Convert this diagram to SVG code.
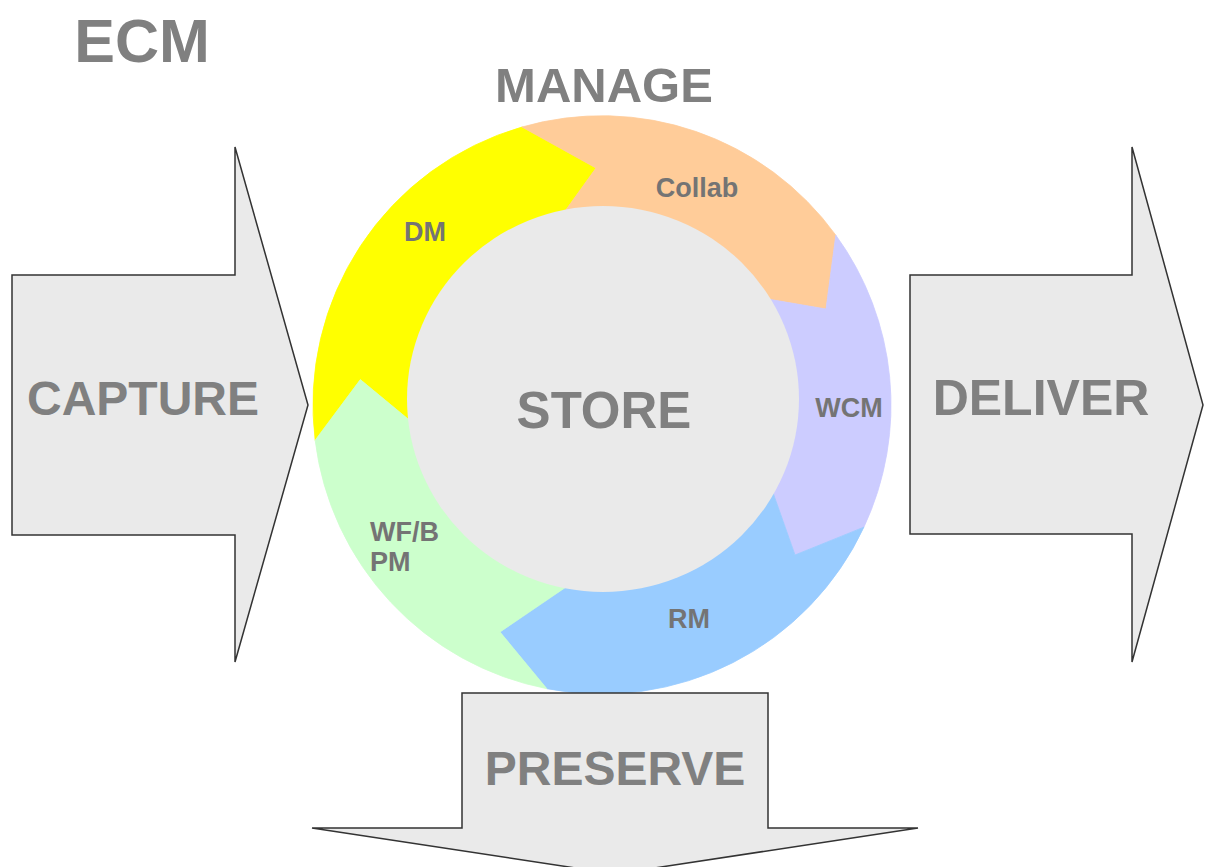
<svg xmlns="http://www.w3.org/2000/svg" width="1205" height="867" viewBox="0 0 1205 867">
  <style>
    .big { font-family: "Liberation Sans", Arial, sans-serif; font-weight: bold; fill: #808080; text-anchor: middle; }
    .small { font-family: "Liberation Sans", Arial, sans-serif; font-weight: bold; font-size: 27px; fill: #747474; }
    .arrow { fill: #eaeaea; stroke: #333333; stroke-width: 1.5; stroke-linejoin: miter; }
    .seg { stroke-width: 0.8; stroke-linejoin: round; }
  </style>
  <rect x="0" y="0" width="1205" height="867" fill="#ffffff"/>

  <g id="title">
    <text class="big" x="142" y="62" font-size="61">ECM</text>
  </g>
  <g id="manage-label">
    <text class="big" x="604" y="102" font-size="49">MANAGE</text>
  </g>

  <g id="cycle">
    <g id="seg-dm">
      <path class="seg" fill="#ffff00" stroke="#ffff00" d="M 315.15 440.22 A 289 289 0 0 1 522 127 L 596 168 L 554.12 226.30 A 185 185 0 0 0 418.38 427.55 L 360.33 379.60 Z"/>
    </g>
    <g id="seg-collab">
      <path class="seg" fill="#ffcc99" stroke="#ffcc99" d="M 522 127 A 289 289 0 0 1 835.81 235.13 L 826 309 L 751.67 296.26 A 185 185 0 0 0 554.12 226.30 L 596 168 Z"/>
    </g>
    <g id="seg-wcm">
      <path class="seg" fill="#ccccff" stroke="#ccccff" d="M 835.81 235.13 A 289 289 0 0 1 863.92 527.14 L 795 555 L 769.67 483.18 A 185 185 0 0 0 751.67 296.26 L 826 309 Z"/>
    </g>
    <g id="seg-rm">
      <path class="seg" fill="#99ccff" stroke="#99ccff" d="M 863.92 527.14 A 289 289 0 0 1 546.86 688.69 L 500 632 L 566.70 586.60 A 185 185 0 0 0 769.67 483.18 L 795 555 Z"/>
    </g>
    <g id="seg-wfbpm">
      <path class="seg" fill="#ccffcc" stroke="#ccffcc" d="M 546.86 688.69 A 289 289 0 0 1 315.15 440.22 L 360.33 379.60 L 418.38 427.55 A 185 185 0 0 0 566.70 586.60 L 500 632 Z"/>
    </g>
    <g id="store">
      <ellipse cx="603" cy="399" rx="196" ry="193" fill="#eaeaea"/>
      <text class="big" x="604" y="428" font-size="51">STORE</text>
    </g>
    <g id="labels">
      <text class="small" x="425" y="241" text-anchor="middle">DM</text>
      <text class="small" x="697" y="197" text-anchor="middle">Collab</text>
      <text class="small" x="849" y="417" text-anchor="middle">WCM</text>
      <text class="small" x="689" y="628" text-anchor="middle">RM</text>
      <text class="small" x="370" y="541">WF/B</text>
      <text class="small" x="370" y="571">PM</text>
    </g>
  </g>

  <g id="capture">
    <polygon class="arrow" points="12,275 235,275 235,147 308,405 235,662 235,535 12,535"/>
    <text class="big" x="143" y="415" font-size="48">CAPTURE</text>
  </g>

  <g id="deliver">
    <polygon class="arrow" points="910,275 1132,275 1132,147 1203,405 1132,662 1132,534 910,534"/>
    <text class="big" x="1041" y="415" font-size="50">DELIVER</text>
  </g>

  <g id="preserve">
    <polygon class="arrow" points="462,693 768,693 768,828 918,828 615,874 312,828 462,828"/>
    <text class="big" x="615" y="785" font-size="48">PRESERVE</text>
  </g>

  <g id="connectors"></g>
</svg>
